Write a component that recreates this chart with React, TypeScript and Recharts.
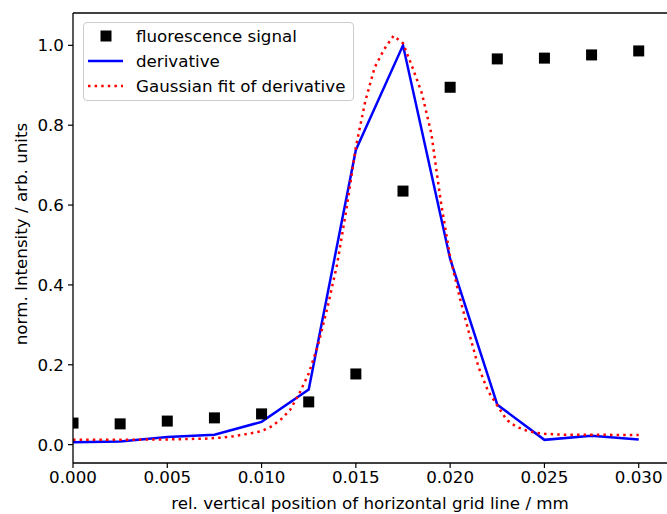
import React from "react";
import {
  ComposedChart,
  Line,
  Scatter,
  XAxis,
  YAxis,
  ReferenceLine,
  Label,
} from "recharts";

// positions along the grid line (mm)
const positions = [0, 0.0025, 0.005, 0.0075, 0.01, 0.0125, 0.015, 0.0175, 0.02, 0.0225, 0.025, 0.0275, 0.03];
const fluorescence = [0.054, 0.052, 0.059, 0.067, 0.077, 0.107, 0.177, 0.635, 0.895, 0.966, 0.968, 0.976, 0.986];
const derivative = [0.006, 0.008, 0.019, 0.025, 0.057, 0.138, 0.738, 1.0, 0.465, 0.1, 0.012, 0.022, 0.013];

// gaussian fit, sampled denser
const fitX = [
  0, 0.001, 0.002, 0.003, 0.004, 0.005, 0.006, 0.007, 0.008, 0.0085, 0.009, 0.0095,
  0.01, 0.0105, 0.011, 0.0115, 0.012, 0.0125, 0.013, 0.0135, 0.014, 0.0145, 0.015, 0.0155,
  0.016, 0.0165, 0.017, 0.0175, 0.018, 0.0185, 0.019, 0.0195, 0.02, 0.0205, 0.021, 0.0215,
  0.022, 0.0225, 0.023, 0.0235, 0.024, 0.0245, 0.025, 0.026, 0.027, 0.028, 0.029, 0.03,
];
const fitY = [
  0.012, 0.012, 0.012, 0.012, 0.013, 0.013, 0.014, 0.015, 0.018, 0.021, 0.025, 0.029,
  0.034, 0.045, 0.062, 0.086, 0.128, 0.178, 0.25, 0.345, 0.45, 0.59, 0.745, 0.86,
  0.945, 0.99, 1.024, 1.005, 0.945, 0.88, 0.78, 0.61, 0.47, 0.37, 0.28, 0.195,
  0.135, 0.098, 0.062, 0.045, 0.036, 0.03, 0.027, 0.025, 0.025, 0.025, 0.024, 0.024,
];

const xTicks = [0, 0.005, 0.01, 0.015, 0.02, 0.025, 0.03];
const yTicks = [0, 0.2, 0.4, 0.6, 0.8, 1.0];

const X_MIN = 0;
const X_MAX = 0.0315;
const Y_MIN = -0.046;
const Y_MAX = 1.081;

const FONT = "'DejaVu Sans', sans-serif";
const FS = 16.7;

const signalData = positions.map((x, i) => ({ x, y: fluorescence[i] }));
const derivData = positions.map((x, i) => ({ x, y: derivative[i] }));
const fitData = fitX.map((x, i) => ({ x, y: fitY[i] }));

// square marker, cut at the left spine like matplotlib's axes clipping
const Square = (props: any) => {
  const { cx, cy, payload } = props;
  if (cx == null || cy == null) return null;
  const half = 5.5;
  const atEdge = payload && payload.x <= X_MIN;
  return (
    <rect
      x={atEdge ? cx : cx - half}
      y={cy - half}
      width={atEdge ? half : half * 2}
      height={half * 2}
      fill="#000"
    />
  );
};

const LegendBox = () => (
  <div
    style={{
      position: "absolute",
      left: 83,
      top: 22,
      width: 271,
      height: 79,
      border: "1px solid #cccccc",
      borderRadius: 4,
      boxSizing: "border-box",
      background: "rgba(255,255,255,0.8)",
    }}
  >
    <svg width={271} height={79} style={{ position: "absolute", left: -1, top: -1 }}>
      <rect x={17.5} y={8.5} width={11} height={11} fill="#000" />
      <line x1={5} y1={39} x2={40} y2={39} stroke="#0000ff" strokeWidth={2.5} />
      <line x1={5} y1={64} x2={40} y2={64} stroke="#ff0000" strokeWidth={2.5} strokeDasharray="2.5 4.1" />
      <text x={53} y={20} fontFamily={FONT} fontSize={FS}>fluorescence signal</text>
      <text x={53} y={44.5} fontFamily={FONT} fontSize={FS}>derivative</text>
      <text x={53} y={69.5} fontFamily={FONT} fontSize={FS}>Gaussian fit of derivative</text>
    </svg>
  </div>
);

export default function App() {
  return (
    <div style={{ position: "absolute", left: 0, top: 0, width: 667, height: 514, overflow: "hidden", background: "#fff" }}>
      <ComposedChart
        width={667}
        height={514}
        margin={{ top: 13, right: 0, left: 0, bottom: 0 }}
      >
        <XAxis
          type="number"
          dataKey="x"
          domain={[X_MIN, X_MAX]}
          ticks={xTicks}
          allowDataOverflow
          tickFormatter={(v: number) => v.toFixed(3)}
          tick={{ fill: "#000", fontSize: FS, fontFamily: FONT }}
          tickSize={5}
          tickMargin={3}
          tickLine={{ stroke: "#000", strokeWidth: 1.2 }}
          axisLine={{ stroke: "#000", strokeWidth: 1.3 }}
          height={51}
        >
          <Label
            content={({ viewBox }: any) => (
              <text
                x={viewBox.x + viewBox.width / 2}
                y={viewBox.y + 46}
                textAnchor="middle"
                fontFamily={FONT}
                fontSize={FS}
                fill="#000"
              >
                rel. vertical position of horizontal grid line / mm
              </text>
            )}
          />
        </XAxis>
        <YAxis
          type="number"
          dataKey="y"
          domain={[Y_MIN, Y_MAX]}
          ticks={yTicks}
          allowDataOverflow
          tickFormatter={(v: number) => v.toFixed(1)}
          tick={{ fill: "#000", fontSize: FS, fontFamily: FONT }}
          tickSize={5}
          tickMargin={4}
          tickLine={{ stroke: "#000", strokeWidth: 1.2 }}
          axisLine={{ stroke: "#000", strokeWidth: 1.3 }}
          width={73}
        >
          <Label
            content={({ viewBox }: any) => {
              const cx = 27;
              const cy = viewBox.y + viewBox.height / 2 - 4;
              return (
                <text
                  x={cx}
                  y={cy}
                  transform={`rotate(-90 ${cx} ${cy})`}
                  textAnchor="middle"
                  fontFamily={FONT}
                  fontSize={FS}
                  fill="#000"
                >
                  norm. Intensity / arb. units
                </text>
              );
            }}
          />
        </YAxis>
        <ReferenceLine y={Y_MAX} stroke="#000" strokeWidth={1.3} />
        <Scatter
          name="fluorescence signal"
          data={signalData}
          shape={<Square />}
          isAnimationActive={false}
        />
        <Line
          name="derivative"
          data={derivData}
          dataKey="y"
          type="linear"
          stroke="#0000ff"
          strokeWidth={2.5}
          dot={false}
          activeDot={false}
          isAnimationActive={false}
        />
        <Line
          name="Gaussian fit of derivative"
          data={fitData}
          dataKey="y"
          type="linear"
          stroke="#ff0000"
          strokeWidth={2.5}
          strokeDasharray="2.5 4.1"
          dot={false}
          activeDot={false}
          isAnimationActive={false}
        />
      </ComposedChart>
      <LegendBox />
    </div>
  );
}
